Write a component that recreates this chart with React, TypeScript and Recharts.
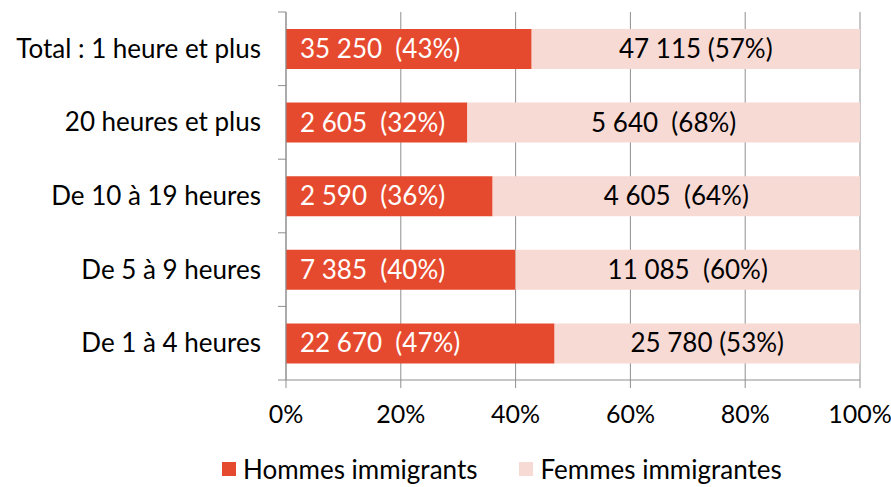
import { BarChart, Bar, XAxis, YAxis, CartesianGrid, Legend, LabelList } from "recharts"

const categories = [
  "Total : 1 heure et plus",
  "20 heures et plus",
  "De 10 à 19 heures",
  "De 5 à 9 heures",
  "De 1 à 4 heures",
]
const hommes = [35250, 2605, 2590, 7385, 22670]
const femmes = [47115, 5640, 4605, 11085, 25780]
// espaces entre nombre et pourcentage, comme dans l'original
const hommesSep = ["  ", "  ", "  ", "  ", "  "]
const femmesSep = [" ", "  ", "  ", "  ", " "]
const xTicks = [0, 0.2, 0.4, 0.6, 0.8, 1]

const RED = "#E64A2E"
const PINK = "#F8DAD5"
const GRID = "#8f8f8f"
const FONT = "Lato, 'Open Sans', sans-serif"
const FS = 26

const W = 891
const H = 487
const TOP = 12
const PLOT_BOTTOM = 380
const band = (PLOT_BOTTOM - TOP) / categories.length

const fmt = (n: number) => n.toLocaleString("en-US").replace(/,/g, " ")

const data = categories.map((c, i) => {
  const tot = hommes[i] + femmes[i]
  const ph = Math.round((hommes[i] / tot) * 100)
  const pf = Math.round((femmes[i] / tot) * 100)
  return {
    name: c,
    hommes: hommes[i],
    femmes: femmes[i],
    hLabel: `${fmt(hommes[i])}${hommesSep[i]}(${ph}%)`,
    fLabel: `${fmt(femmes[i])}${femmesSep[i]}(${pf}%)`,
  }
})

const YTick = (props: any) => {
  const { x, y, payload, index } = props
  return (
    <g>
      <line x1={x - 8} x2={x} y1={y - band / 2} y2={y - band / 2} stroke={GRID} />
      {index === categories.length - 1 && (
        <line x1={x - 8} x2={x} y1={y + band / 2} y2={y + band / 2} stroke={GRID} />
      )}
      <text x={x - 25} y={y} dy={9} textAnchor="end" fontSize={FS} fontFamily={FONT} fill="#000">
        {payload.value}
      </text>
    </g>
  )
}

const HommesLabel = (props: any) => {
  const { x, y, height, value } = props
  return (
    <text x={x + 14} y={y + height / 2} dy={9} fontSize={FS} fontFamily={FONT} fill="#fff" style={{ whiteSpace: "pre" }}>
      {value}
    </text>
  )
}

const FemmesLabel = (props: any) => {
  const { x, y, width, height, value } = props
  return (
    <text x={x + width / 2} y={y + height / 2} dy={9} textAnchor="middle" fontSize={FS} fontFamily={FONT} fill="#000" style={{ whiteSpace: "pre" }}>
      {value}
    </text>
  )
}

const LegendBox = () => (
  <div style={{ display: "flex", alignItems: "center", fontFamily: FONT, fontSize: FS, color: "#000", lineHeight: "28px" }}>
    <span style={{ width: 14, height: 14, background: RED, display: "inline-block", marginRight: 7 }} />
    <span style={{ marginRight: 42 }}>Hommes immigrants</span>
    <span style={{ width: 14, height: 14, background: PINK, display: "inline-block", marginRight: 7 }} />
    <span>Femmes immigrantes</span>
  </div>
)

export default function App() {
  return (
    <div style={{ width: W, height: H, background: "#fff" }}>
      <style>{"body{margin:0}"}</style>
      <BarChart
        width={W}
        height={H}
        data={data}
        layout="vertical"
        stackOffset="expand"
        margin={{ top: TOP, right: 31, bottom: H - PLOT_BOTTOM - 50, left: 0 }}
      >
        <CartesianGrid horizontal={false} stroke={GRID} strokeWidth={1} />
        <XAxis
          type="number"
          domain={[0, 1]}
          ticks={xTicks}
          tickFormatter={(v: number) => `${Math.round(v * 100)}%`}
          height={50}
          axisLine={{ stroke: GRID }}
          tickLine={{ stroke: GRID }}
          tickSize={8}
          tickMargin={17}
          tick={{ fontSize: 25, fontFamily: FONT, fill: "#000" }}
        />
        <YAxis
          type="category"
          dataKey="name"
          width={286}
          axisLine={{ stroke: GRID }}
          tickLine={false}
          tickSize={0}
          tickMargin={0}
          tick={<YTick />}
        />
        <Legend
          verticalAlign="middle"
          align="center"
          content={<LegendBox />}
          wrapperStyle={{ top: 455, left: 222, width: 650 }}
        />
        <Bar dataKey="hommes" stackId="a" fill={RED} barSize={40} isAnimationActive={false}>
          <LabelList dataKey="hLabel" content={<HommesLabel />} />
        </Bar>
        <Bar dataKey="femmes" stackId="a" fill={PINK} barSize={40} isAnimationActive={false}>
          <LabelList dataKey="fLabel" content={<FemmesLabel />} />
        </Bar>
      </BarChart>
    </div>
  )
}
